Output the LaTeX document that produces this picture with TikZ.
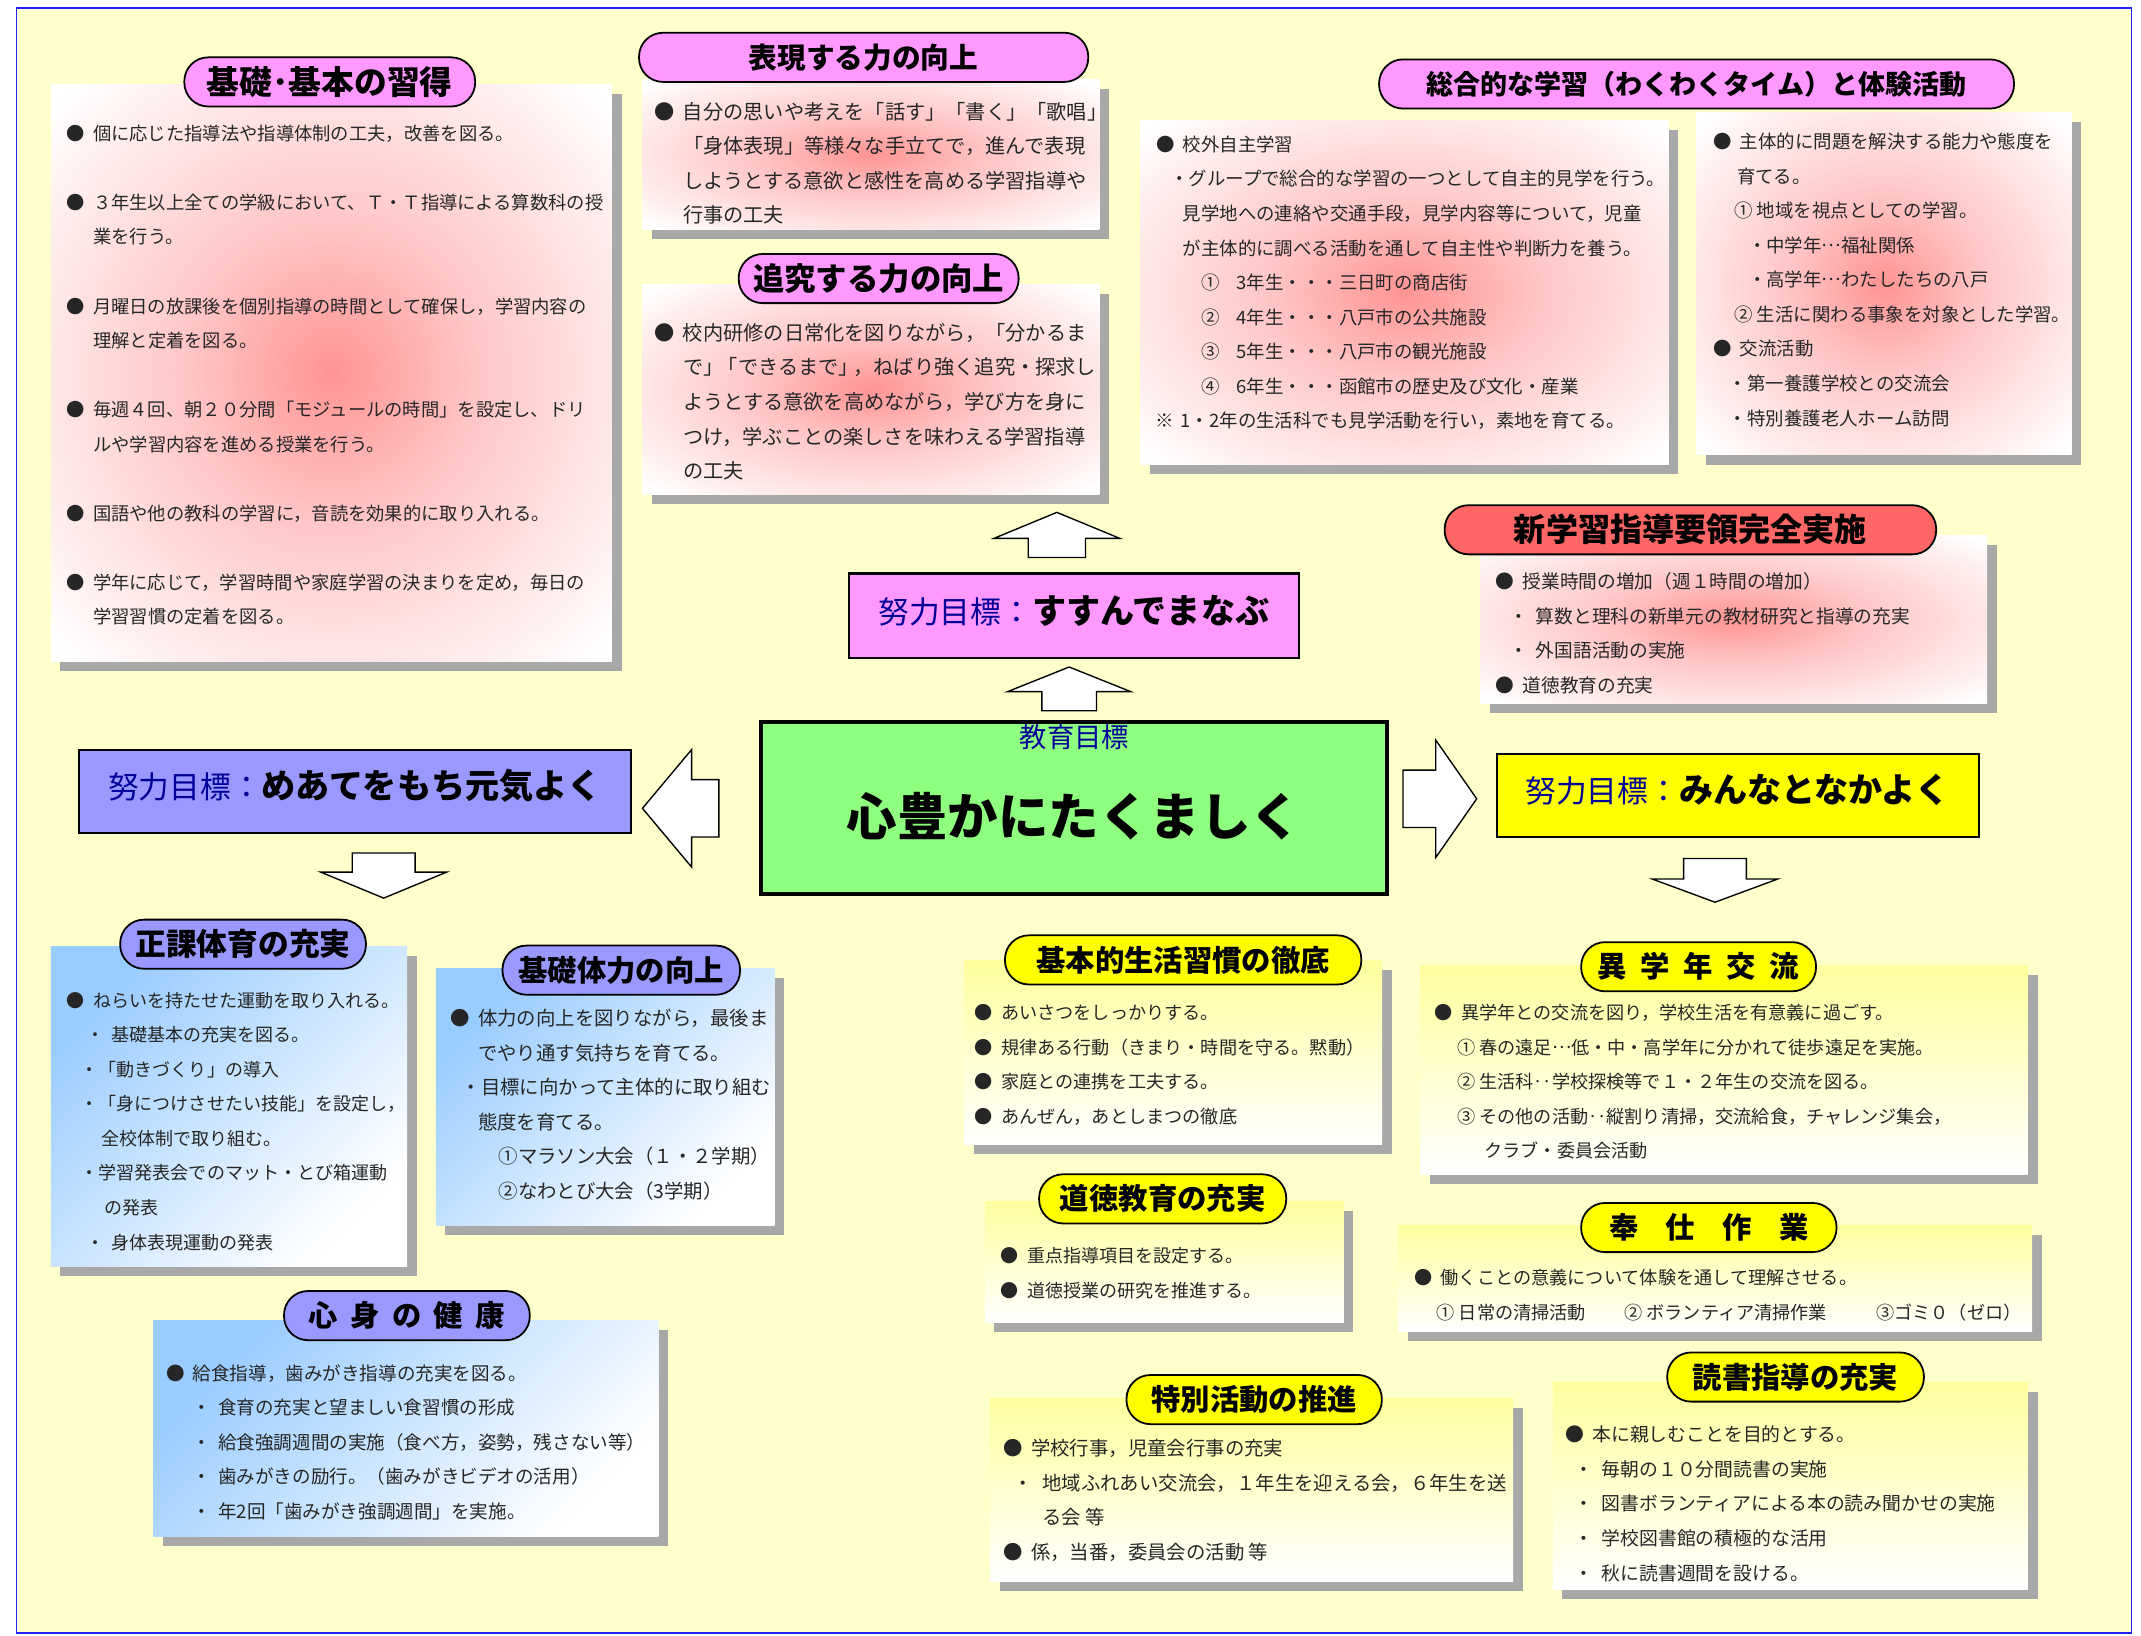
\documentclass[tikz,border=0pt]{standalone}
\usepackage{fontspec}
\setmainfont{Noto Sans CJK JP}
\usetikzlibrary{positioning,shadows,calc}

\definecolor{bgyel}{HTML}{FFFFCC}
\definecolor{frameblue}{HTML}{2020FF}
\definecolor{pinkfill}{HTML}{FF99FF}
\definecolor{violetfill}{HTML}{9999FF}
\definecolor{yelfill}{HTML}{FFFF00}
\definecolor{redfill}{HTML}{FF6666}
\definecolor{greenfill}{HTML}{8FFF80}
\definecolor{goalnavy}{HTML}{000099}
\definecolor{shadowgray}{HTML}{A8A8A8}
\definecolor{skyfill}{HTML}{99CCFF}
\definecolor{paleyel}{HTML}{FFFF9E}
\definecolor{pinkcore}{HTML}{FF9494}
\definecolor{pinkmid}{HTML}{FFC6C6}

\pgfdeclareradialshading{pinkglow}{\pgfpoint{0bp}{0bp}}{color(0bp)=(pinkcore); color(13bp)=(pinkmid); color(34bp)=(white); color(50bp)=(white)}

\newcommand{\blt}{\llap{●\hspace{6pt}}}
\newcommand{\jdots}{\raisebox{0.32em}{…}}
\newcommand{\twodots}{‥}
\newcommand{\goallabel}[1]{{\color{goalnavy}\fontsize{22.5}{22.5}\selectfont 努力目標：}{\bfseries\fontsize{25}{25}\selectfont #1}}

\begin{document}
\begin{tikzpicture}[x=1pt, y=-1pt,
    panel/.style={anchor=north west, inner sep=0pt,
      general shadow={fill=shadowgray, shadow xshift=7pt, shadow yshift=-7pt}},
    pinkpanel/.style={panel, shade, shading=pinkglow},
    bluepanel/.style={panel, top color=skyfill, bottom color=white, shading angle=45},
    yelpanel/.style={panel, top color=paleyel, bottom color=white},
    pill/.style={draw=black, line width=1.3pt, rounded corners=17.5pt, minimum height=36pt,
      inner sep=0pt, font=\bfseries\fontsize{#1}{#1}\selectfont},
    pill/.default=21.5,
    pinkpill/.style={pill=#1, fill=pinkfill}, pinkpill/.default=21.5,
    violetpill/.style={pill=#1, fill=violetfill}, violetpill/.default=21.5,
    yelpill/.style={pill=#1, fill=yelfill}, yelpill/.default=21.5,
    redpill/.style={pill=#1, fill=redfill}, redpill/.default=21.5,
    txt/.style={anchor=north west, inner sep=0pt, align=left, text=black!85,
      font=\fontsize{#1}{25.3}\selectfont},
    goalbox/.style={draw=black, line width=1.5pt, inner sep=0pt, text height=25pt, text depth=14pt},
    pics/fatarrow/.style args={#1/#2/#3/#4}{code={
      \draw[fill=white, line width=1pt] (0,-#4) -- ({#1-#2},-#4) -- ({#1-#2},-#3) -- (#1,0)
        -- ({#1-#2},#3) -- ({#1-#2},#4) -- (0,#4) -- cycle;}},
  ]
  \useasboundingbox (0,0) rectangle (1568,1198);
  \fill[white] (0,0) rectangle (1568,1198);
  \fill[bgyel] (12,6) rectangle (1561,1196);
  \draw[frameblue, line width=1.2pt] (12,6) rectangle (1561,1196);

  % panels
  \node[pinkpanel, minimum width=411pt, minimum height=422pt] (kisoPanel) at (37,62) {};
  \node[pinkpanel, minimum width=335pt, minimum height=110pt] (hyogenPanel) at (470,58) {};
  \node[pinkpanel, minimum width=335pt, minimum height=154pt] (tsuikyuPanel) at (470,208) {};
  \node[pinkpanel, minimum width=387pt, minimum height=252pt] (sogoPanelA) at (835,88) {};
  \node[pinkpanel, minimum width=275pt, minimum height=251pt] (sogoPanelB) at (1242,82) {};
  \node[pinkpanel, minimum width=371pt, minimum height=123pt] (shingakuPanel) at (1084,392) {};
  \node[bluepanel, minimum width=261pt, minimum height=234pt] (seikaPanel) at (37,693) {};
  \node[bluepanel, minimum width=248pt, minimum height=188pt] (tairyokuPanel) at (319,709) {};
  \node[bluepanel, minimum width=370pt, minimum height=158pt] (shinshinPanel) at (112,967) {};
  \node[yelpanel, minimum width=306pt, minimum height=135pt] (kihonPanel) at (706,703) {};
  \node[yelpanel, minimum width=263pt, minimum height=88pt] (dotokuPanel) at (721,880) {};
  \node[yelpanel, minimum width=383pt, minimum height=134pt] (tokubetsuPanel) at (725,1024) {};
  \node[yelpanel, minimum width=445pt, minimum height=153pt] (igakunenPanel) at (1040,707) {};
  \node[yelpanel, minimum width=464pt, minimum height=78pt] (hoshiPanel) at (1024,897) {};
  \node[yelpanel, minimum width=348pt, minimum height=152pt] (dokushoPanel) at (1137,1012) {};

  % titles
  \node[pinkpill=24, minimum width=213pt] (kisoTitle) at (241.5,60) {基礎･基本の習得};
  \node[pinkpill=21, minimum width=329pt] (hyogenTitle) at (632.5,42) {表現する力の向上};
  \node[pinkpill=23, minimum width=205pt] (tsuikyuTitle) at (643.5,204) {追究する力の向上};
  \node[pinkpill=19.8, minimum width=465pt] (sogoTitle) at (1242.5,61.5) {総合的な学習（わくわくタイム）と体験活動};
  \node[redpill=23.5, minimum width=360pt] (shingakuTitle) at (1238,388) {新学習指導要領完全実施};
  \node[violetpill=22.5, minimum width=180pt] (seikaTitle) at (178,691.5) {正課体育の充実};
  \node[violetpill, minimum width=174pt] (tairyokuTitle) at (455,710.5) {基礎体力の向上};
  \node[violetpill, minimum width=180pt] (shinshinTitle) at (298,963.5) {心\hspace{9pt}身\hspace{9pt}の\hspace{9pt}健\hspace{9pt}康};
  \node[yelpill, minimum width=261pt] (kihonTitle) at (866.5,703) {基本的生活習慣の徹底};
  \node[yelpill, minimum width=181pt] (dotokuTitle) at (851.5,878) {道徳教育の充実};
  \node[yelpill, minimum width=187pt] (tokubetsuTitle) at (918.5,1025) {特別活動の推進};
  \node[yelpill, minimum width=172pt] (igakunenTitle) at (1244,708) {異\hspace{10pt}学\hspace{10pt}年\hspace{10pt}交\hspace{10pt}流};
  \node[yelpill, minimum width=187pt] (hoshiTitle) at (1251.5,899) {奉\hspace{20pt}仕\hspace{20pt}作\hspace{20pt}業};
  \node[yelpill, minimum width=188pt] (dokushoTitle) at (1315,1008.5) {読書指導の充実};

  % texts
  \node[txt=13.4] (kisoText) at (68,91.3) {\blt 個に応じた指導法や指導体制の工夫，改善を図る。\\[25.3pt]
    \blt ３年生以上全ての学級において、Ｔ・Ｔ指導による算数科の授\\
    業を行う。\\[25.3pt]
    \blt 月曜日の放課後を個別指導の時間として確保し，学習内容の\\
    理解と定着を図る。\\[25.3pt]
    \blt 毎週４回、朝２０分間「モジュールの時間」を設定し、ドリ\\
    ルや学習内容を進める授業を行う。\\[25.3pt]
    \blt 国語や他の教科の学習に，音読を効果的に取り入れる。\\[25.3pt]
    \blt 学年に応じて，学習時間や家庭学習の決まりを定め，毎日の\\
    学習習慣の定着を図る。};
  \node[txt=14.8] (hyogenText) at (500,74.6) {\blt 自分の思いや考えを「話す」「書く」「歌唱」\\
    「身体表現」等様々な手立てで，進んで表現\\
    しようとする意欲と感性を高める学習指導や\\
    行事の工夫};
  \node[txt=14.8] (tsuikyuText) at (500,236.6) {\blt 校内研修の日常化を図りながら，「分かるま\\
    で」\kern-4pt「できるまで」\kern-4pt，ねばり強く追究・探求し\\
    ようとする意欲を高めながら，学び方を身に\\
    つけ，学ぶことの楽しさを味わえる学習指導\\
    の工夫};
  \node[txt=13.5] (sogoTextA) at (866,99.3) {\blt 校外自主学習\\
    \hspace*{-9pt}・グループで総合的な学習の一つとして自主的見学を行う。\\
    見学地への連絡や交通手段，見学内容等について，児童\\
    が主体的に調べる活動を通して自主性や判断力を養う。\\
    \hspace*{14pt}①\hspace{12pt}3年生・・・三日町の商店街\\
    \hspace*{14pt}②\hspace{12pt}4年生・・・八戸市の公共施設\\
    \hspace*{14pt}③\hspace{12pt}5年生・・・八戸市の観光施設\\
    \hspace*{14pt}④\hspace{12pt}6年生・・・函館市の歴史及び文化・産業\\
    \hspace*{-20pt}※\hspace{5pt}1・2年の生活科でも見学活動を行い，素地を育てる。};
  \node[txt=13.5] (sogoTextB) at (1274,97.3) {\blt 主体的に問題を解決する能力や態度を\\
    \hspace*{-2pt}育てる。\\
    \hspace*{-4pt}① 地域を視点としての学習。\\
    \hspace*{6pt}・中学年\jdots 福祉関係\\
    \hspace*{6pt}・高学年\jdots わたしたちの八戸\\
    \hspace*{-4pt}② 生活に関わる事象を対象とした学習。\\
    \blt 交流活動\\
    \hspace*{-8pt}・第一養護学校との交流会\\
    \hspace*{-8pt}・特別養護老人ホーム訪問};
  \node[txt=13.7] (shingakuText) at (1115,419.2) {\blt 授業時間の増加（週１時間の増加）\\
    \hspace*{-10pt}・\hspace{6pt}算数と理科の新単元の教材研究と指導の充実\\
    \hspace*{-10pt}・\hspace{6pt}外国語活動の実施\\
    \blt 道徳教育の充実};
  \node[txt=13.2] (seikaText) at (68,726.4) {\blt ねらいを持たせた運動を取り入れる。\\
    \hspace*{-5pt}・\hspace{5pt}基礎基本の充実を図る。\\
    \hspace*{-9pt}・「動きづくり」の導入\\
    \hspace*{-9pt}・「身につけさせたい技能」を設定し，\\
    \hspace*{6pt}全校体制で取り組む。\\
    \hspace*{-9pt}・学習発表会でのマット・とび箱運動\\
    \hspace*{8pt}の発表\\
    \hspace*{-5pt}・\hspace{5pt}身体表現運動の発表};
  \node[txt=14.2] (tairyokuText) at (350,738.9) {\blt 体力の向上を図りながら，最後ま\\
    でやり通す気持ちを育てる。\\
    \hspace*{-12pt}・目標に向かって主体的に取り組む\\
    態度を育てる。\\
    \hspace*{15pt}①マラソン大会（１・２学期）\\
    \hspace*{15pt}②なわとび大会（3学期）};
  \node[txt=13.6] (shinshinText) at (141,999.2) {\blt 給食指導，歯みがき指導の充実を図る。\\
    ・\hspace{5pt}食育の充実と望ましい食習慣の形成\\
    ・\hspace{5pt}給食強調週間の実施（食べ方，姿勢，残さない等）\\
    ・\hspace{5pt}歯みがきの励行。（歯みがきビデオの活用）\\
    ・\hspace{5pt}年2回「歯みがき強調週間」を実施。};
  \node[txt=13.3] (kihonText) at (733,735.4) {\blt あいさつをしっかりする。\\
    \blt 規律ある行動（きまり・時間を守る。黙動）\\
    \blt 家庭との連携を工夫する。\\
    \blt あんぜん，あとしまつの徹底};
  \node[txt=13.2] (dotokuText) at (752,913.4) {\blt 重点指導項目を設定する。\\
    \blt 道徳授業の研究を推進する。};
  \node[txt=14.2] (tokubetsuText) at (755,1053.9) {\blt 学校行事，児童会行事の充実\\
    \hspace*{-13pt}・\hspace{7pt}地域ふれあい交流会，１年生を迎える会，６年生を送\\
    \hspace*{8pt}る会 等\\
    \blt 係，当番，委員会の活動 等};
  \node[txt=13.3] (igakunenText) at (1070,735.4) {\blt 異学年との交流を図り，学校生活を有意義に過ごす。\\
    \hspace*{-3pt}① 春の遠足\jdots 低・中・高学年に分かれて徒歩遠足を実施。\\
    \hspace*{-3pt}② 生活科\twodots 学校探検等で１・２年生の交流を図る。\\
    \hspace*{-3pt}③ その他の活動\twodots 縦割り清掃，交流給食，チャレンジ集会，\\
    \hspace*{17pt}クラブ・委員会活動};
  \node[txt=13.3] (hoshiText) at (1055,929.4) {\blt 働くことの意義について体験を通して理解させる。\\
    \hspace*{-3pt}① 日常の清掃活動\hspace{28pt}② ボランティア清掃作業\hspace{36pt}③ゴミ０（ゼロ）};
  \node[txt=13.8] (dokushoText) at (1166,1044.1) {\blt 本に親しむことを目的とする。\\
    \hspace*{-13pt}・\hspace{6pt}毎朝の１０分間読書の実施\\
    \hspace*{-13pt}・\hspace{6pt}図書ボランティアによる本の読み聞かせの実施\\
    \hspace*{-13pt}・\hspace{6pt}学校図書館の積極的な活用\\
    \hspace*{-13pt}・\hspace{6pt}秋に読書週間を設ける。};

  % goals
  \node[goalbox, fill=pinkfill, minimum width=329pt, minimum height=62pt] (susumuGoal) at (786.5,451) {\goallabel{すすんでまなぶ}};
  \node[goalbox, fill=violetfill, minimum width=404pt, minimum height=61pt] (meateGoal) at (260,579.5) {\goallabel{めあてをもち元気よく}};
  \node[goalbox, fill=yelfill, minimum width=353pt, minimum height=61pt] (minnaGoal) at (1272.5,582.5) {\goallabel{みんなとなかよく}};
  \node[draw=black, line width=3pt, fill=greenfill, minimum width=459pt, minimum height=126pt, inner sep=0pt,
    text height=40pt, text depth=0pt, font=\bfseries\fontsize{37}{37}\selectfont] (eduGoal) at (786.5,592) {心豊かにたくましく};
  \node[inner sep=0pt, text=goalnavy, font=\fontsize{20}{20}\selectfont] (eduLabel) at ($(eduGoal.north)+(0.5,12)$) {教育目標};

  % block arrows
  \pic[rotate=90] (upA) at ($(susumuGoal.north)+(-12.5,-11)$) {fatarrow=33/19/46/21};
  \pic[rotate=90] (upB) at ($(eduGoal.north)+(-3.5,-7)$) {fatarrow=32/18/45/20};
  \pic[rotate=180] (leftA) at ($(eduGoal.west)+(-29,0)$) {fatarrow=56/36/43/21};
  \pic (rightA) at ($(eduGoal.east)+(10,-7)$) {fatarrow=54/30/43/21};
  \pic[rotate=-90] (downA) at ($(meateGoal.south)+(21,14)$) {fatarrow=33/19/46/23};
  \pic[rotate=-90] (downB) at ($(minnaGoal.south)+(-16.5,15)$) {fatarrow=32/17/46/23};
\end{tikzpicture}
\end{document}
